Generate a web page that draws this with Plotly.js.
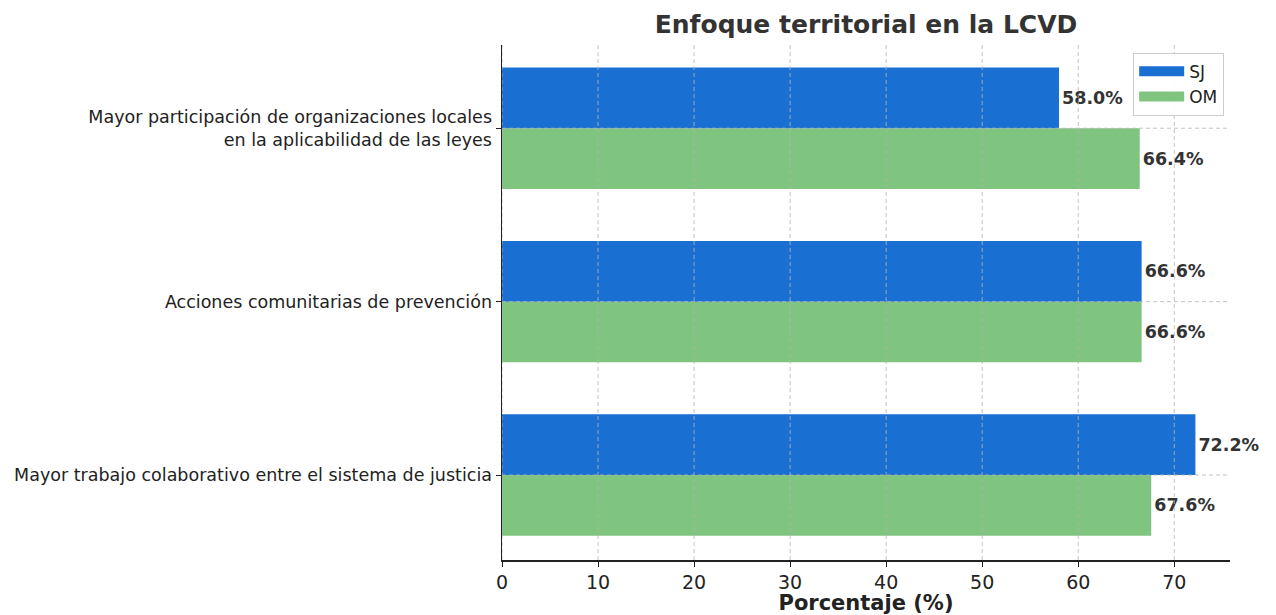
<!DOCTYPE html>
<html>
<head>
<meta charset="utf-8">
<script src="https://cdn.plot.ly/plotly-3.0.1.min.js"></script>
<style>html,body{margin:0;padding:0;background:#fff;}#chart{width:1276px;height:615px;}</style>
</head>
<body>
<div id="chart"></div>
<script>
const categories = [
  "Mayor trabajo colaborativo entre el sistema de justicia",
  "Acciones comunitarias de prevención",
  "Mayor participación de organizaciones locales<br>en la aplicabilidad de las leyes"
];
const sjValues = [72.2, 66.6, 58.0];
const omValues = [67.6, 66.6, 66.4];
const xTicks = [0, 10, 20, 30, 40, 50, 60, 70];
const seriesNames = ["SJ", "OM"];
const seriesColors = ["#1a70d2", "#7fc47f"];

const font = "DejaVu Sans, sans-serif";
const labelFont = {family: font, size: 17.5, color: "#333333", weight: "bold"};

const traces = [
  {type: "bar", orientation: "h", name: seriesNames[1], y: categories, x: omValues,
   marker: {color: seriesColors[1]}, texttemplate: "%{x:.1f}%", textposition: "outside",
   textfont: labelFont, cliponaxis: false, hoverinfo: "skip", showlegend: false},
  {type: "bar", orientation: "h", name: seriesNames[0], y: categories, x: sjValues,
   marker: {color: seriesColors[0]}, texttemplate: "%{x:.1f}%", textposition: "outside",
   textfont: labelFont, cliponaxis: false, hoverinfo: "skip", showlegend: false}
];
// legend-only entries (no marks drawn) to get wide rectangular swatches
seriesNames.forEach((n, i) => traces.push({type: "scatter", mode: "lines", name: n, x: [null], y: [null],
  line: {color: seriesColors[i], width: 13}, hoverinfo: "skip"}));

const gridStyle = {color: "rgba(180,180,180,0.8)", width: 1, dash: "4px,3px"};
const shapes = [];
xTicks.forEach(v => shapes.push({type: "line", xref: "x", yref: "paper", x0: v, x1: v, y0: 0, y1: 1, line: gridStyle, layer: "above"}));
categories.forEach(c => shapes.push({type: "line", xref: "paper", yref: "y", x0: 0, x1: 1, y0: c, y1: c, line: gridStyle, layer: "above"}));

const layout = {
  width: 1276, height: 615,
  margin: {l: 502, r: 46, t: 45, b: 55},
  paper_bgcolor: "#ffffff", plot_bgcolor: "#ffffff",
  font: {family: font, color: "#222222"},
  title: {text: "<b>Enfoque territorial en la LCVD</b>", xref: "paper", x: 0.5, xanchor: "center", y: 0.96, yanchor: "middle",
          font: {family: font, size: 25, color: "#333333"}},
  barmode: "group", bargap: 0.3, bargroupgap: 0,
  xaxis: {range: [0, 75.8], tickvals: xTicks, ticks: "outside", ticklen: 5, tickcolor: "#222",
          showgrid: false, zeroline: false, showline: true, linecolor: "#222", linewidth: 1.5,
          tickfont: {family: font, size: 19, color: "#222"},
          title: {text: "<b>Porcentaje (%)</b>", font: {family: font, size: 21, color: "#222"}, standoff: 4}},
  yaxis: {range: [-0.49, 2.48], ticks: "outside", ticklen: 5, tickcolor: "#222",
          showgrid: false, zeroline: false, showline: true, linecolor: "#222", linewidth: 1.5,
          tickfont: {family: font, size: 17.5, color: "#222"}},
  legend: {x: 0.992, xanchor: "right", y: 0.985, yanchor: "top", itemwidth: 45,
           bgcolor: "rgba(255,255,255,0.9)", bordercolor: "#cccccc", borderwidth: 1,
           font: {family: font, size: 17, color: "#222"}},
  shapes: shapes,
  showlegend: true
};

Plotly.newPlot("chart", traces, layout, {displayModeBar: false, staticPlot: true});
</script>
</body>
</html>
